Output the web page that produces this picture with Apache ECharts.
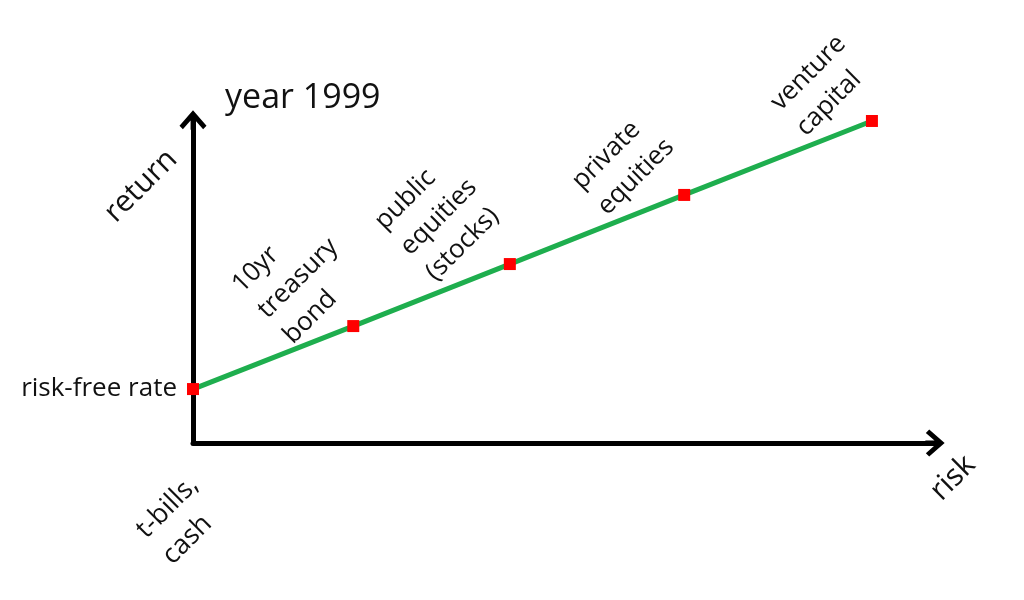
<!DOCTYPE html>
<html>
<head>
<meta charset="utf-8">
<script src="https://cdn.jsdelivr.net/npm/echarts@6/dist/echarts.min.js"></script>
<style>html,body{margin:0;padding:0;background:#fff;}#c{width:1024px;height:600px;}</style>
</head>
<body>
<div id="c"></div>
<script>
// data (risk, return) in arbitrary units
const pointNames = ['risk-free rate', '10yr\ntreasury\nbond', 'public\nequities\n(stocks)', 'private\nequities', 'venture\ncapital'];
const riskValues = [0, 21.6, 42.7, 66.2, 91.5];
const returnValues = [16.7, 36.2, 55.4, 76.8, 99.7];
// label left-middle anchor shift from its point, in screen pixels
const labelShift = [null, [-91, -12], [-105, -13], [-95, 3], [-84, -2]];

const FONT = '"Open Sans", sans-serif';
const arrowPath = 'path://M14,0 L28,16 L24.5,19.5 L16.5,10.5 L16.5,20 L11.5,20 L11.5,10.5 L3.5,19.5 L0,16 Z';
const ROT = 45;

function toLocal(d) {
  // label offset is applied in the rotated frame: undo the rotation
  const a = ROT * Math.PI / 180, c = Math.cos(a), s = Math.sin(a);
  return [d[0] * c - d[1] * s, d[0] * s + d[1] * c];
}

const data = pointNames.map((n, i) => {
  const item = { name: n, value: [riskValues[i], returnValues[i]] };
  if (i === 0) {
    item.label = { show: true, position: 'left', distance: 10, fontSize: 26, color: '#111', fontFamily: FONT, formatter: '{b}' };
  } else {
    item.label = {
      show: true, position: 'inside', rotate: ROT, offset: toLocal(labelShift[i]),
      align: 'left', verticalAlign: 'middle', fontSize: 26, lineHeight: 36,
      color: '#111', fontFamily: FONT, formatter: '{b}'
    };
  }
  return item;
});

const chart = echarts.init(document.getElementById('c'), null, { renderer: 'canvas' });
chart.setOption({
  animation: false,
  backgroundColor: '#fff',
  grid: { left: 193, right: 89, top: 120, bottom: 157, containLabel: false },
  xAxis: {
    type: 'value', min: 0, max: 100,
    axisLine: { show: true, onZero: false, lineStyle: { color: '#000', width: 5 }, symbol: ['none', arrowPath], symbolSize: [27, 20] },
    axisTick: { show: false }, axisLabel: { show: false }, splitLine: { show: false }
  },
  yAxis: {
    type: 'value', min: 0, max: 100,
    axisLine: { show: true, onZero: false, lineStyle: { color: '#000', width: 5 }, symbol: ['none', arrowPath], symbolSize: [27, 20] },
    axisTick: { show: false }, axisLabel: { show: false }, splitLine: { show: false }
  },
  graphic: [
    { type: 'text', x: 225, y: 98, style: { text: 'year 1999', font: '34px ' + FONT, fill: '#111', textAlign: 'left', textVerticalAlign: 'middle' } },
    { type: 'text', x: 141, y: 186, rotation: Math.PI / 4, style: { text: 'return', font: '30px ' + FONT, fill: '#111', textAlign: 'center', textVerticalAlign: 'middle' } },
    { type: 'text', x: 953, y: 478, rotation: Math.PI / 4, style: { text: 'risk', font: '30px ' + FONT, fill: '#111', textAlign: 'center', textVerticalAlign: 'middle' } },
    { type: 'text', x: 154, y: 547, rotation: Math.PI / 4, style: { text: 't-bills,\ncash', font: '27px ' + FONT, lineHeight: 37, fill: '#111', textAlign: 'left', textVerticalAlign: 'middle' } }
  ],
  series: [{
    type: 'line',
    data: data,
    clip: false,
    symbol: 'rect',
    symbolSize: 12,
    itemStyle: { color: '#ff0000' },
    lineStyle: { color: '#1eae4e', width: 5 },
    z: 5
  }]
});
</script>
</body>
</html>
